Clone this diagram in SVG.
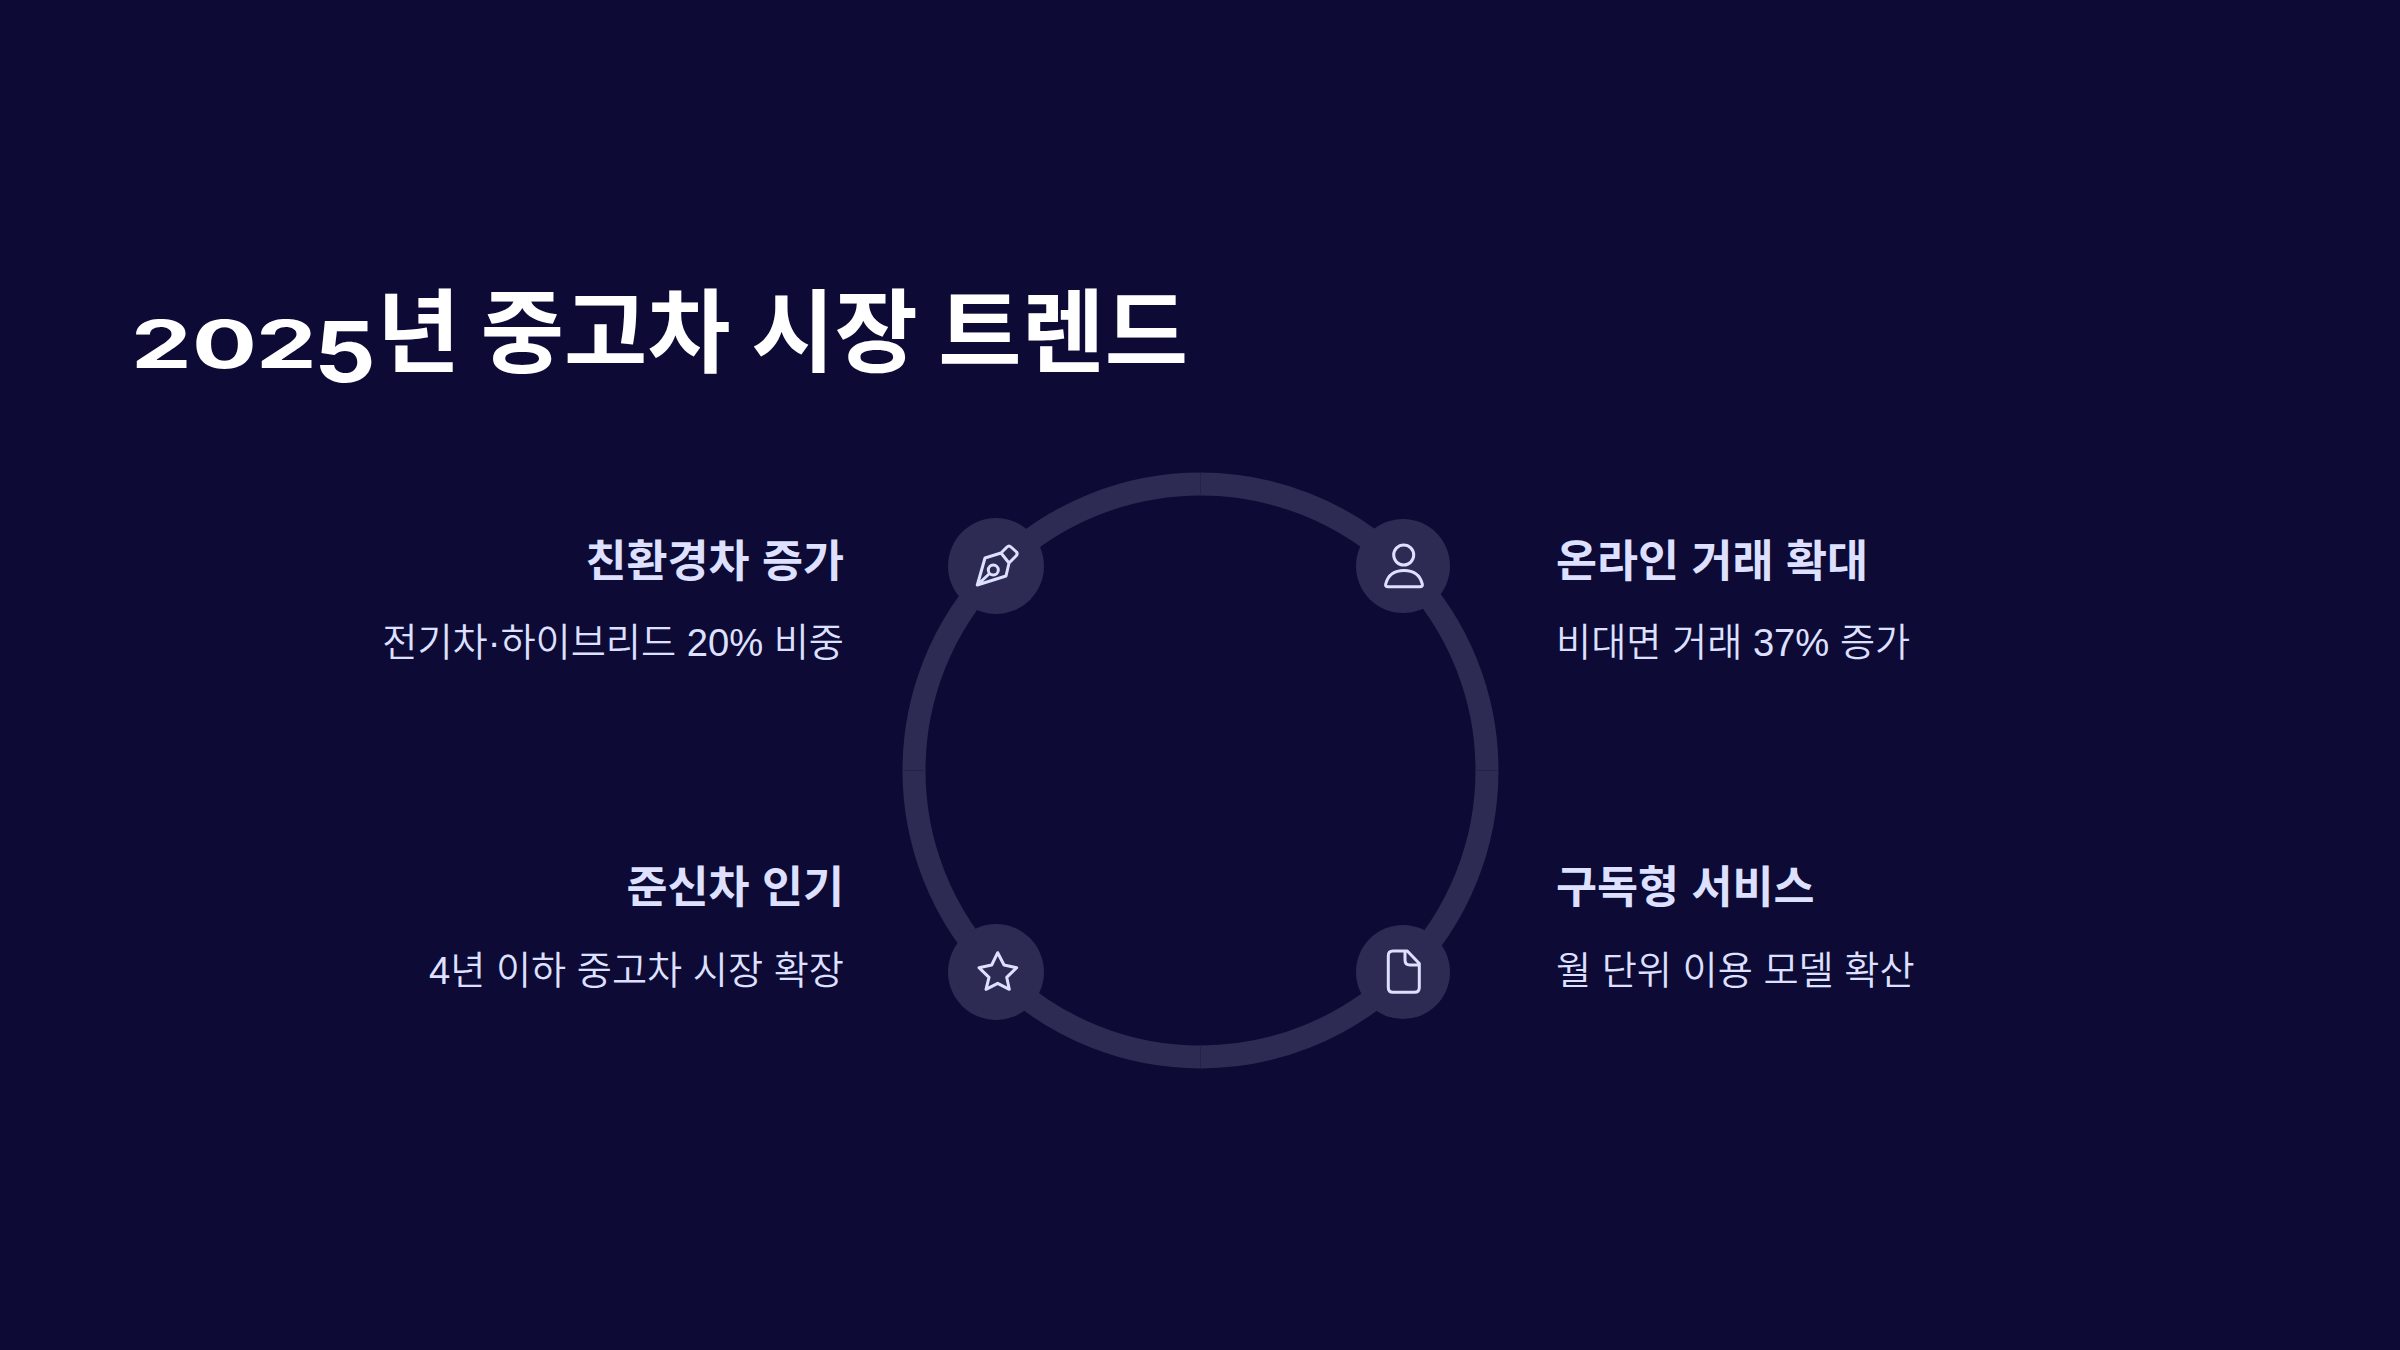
<svg xmlns="http://www.w3.org/2000/svg" width="2400" height="1350" viewBox="0 0 2400 1350">
<style>
.t{font-family:"Noto Sans CJK KR","Liberation Sans",sans-serif}
.title{font-size:90.500px;font-weight:700;fill:#fff}
.d{font-family:"Inter","Liberation Sans",sans-serif;font-weight:700;fill:#fff}
.h{font-family:"Liberation Sans","Noto Sans CJK KR",sans-serif;font-size:44.600px;font-weight:700;fill:#dde0ff}
.s{font-family:"Liberation Sans","Noto Sans CJK KR",sans-serif;font-size:38.200px;font-weight:350;fill:#dde0ff}
.ring{fill:none;stroke:#2d2b53;stroke-width:23}
.seam{stroke:#24224a;stroke-width:1}
.c{fill:#2d2b53}
.i{fill:none;stroke:#dde0ff;stroke-width:3;stroke-linecap:round;stroke-linejoin:round}
</style>
<rect width="2400" height="1350" fill="#0d0a36"/>
<g id="title">
<text class="d" transform="translate(131 368) scale(1.46 1)" font-size="66">2</text>
<text class="d" transform="translate(192 368) scale(1.46 1)" font-size="66">0</text>
<text class="d" transform="translate(256 368) scale(1.46 1)" font-size="66">2</text>
<text class="d" transform="translate(314 382) scale(1.15 1)" font-size="84">5</text>
<text class="t title" x="377" y="365">년 중고차 시장 트렌드</text>
</g>
<g id="connectors">
<circle class="ring" cx="1200.500" cy="770.500" r="286.500"/>
<path class="seam" d="M1200.500 473V496M1200.500 1045V1068M903 770.500H926M1475 770.500H1498"/>
</g>
<g id="node-tl"><circle class="c" cx="996" cy="566" r="48"/>
<path class="i" d="M977.300 585L985 558L1001 553L1009 563L1006 576ZM977.300 585L989 574M1001 553L1007 547Q1009 545 1011 547L1016.500 552Q1018 554 1016 556L1009 563"/><circle class="i" cx="993.300" cy="570" r="5"/></g>
<g id="node-tr"><circle class="c" cx="1403" cy="566" r="47"/>
<circle class="i" cx="1403.700" cy="555" r="10"/><path class="i" d="M1388 586.700H1420Q1423 586.700 1422.300 584C1420 575 1413 570.500 1404 570.500C1395 570.500 1388 575 1385.700 584Q1385 586.700 1388 586.700Z"/></g>
<g id="node-bl"><circle class="c" cx="996" cy="972" r="48"/>
<path class="i" d="M997.700 952.700L1004 965L1016.700 967.700L1006.700 977.300L1009.300 989.300L997.700 983.300L986 989.300L989 977.300L979 967.700L991.700 965Z"/></g>
<g id="node-br"><circle class="c" cx="1403" cy="972" r="47"/>
<path class="i" d="M1393 951H1407.300L1419.300 963.500V987.500Q1419.300 992.300 1414.500 992.300H1393Q1388.300 992.300 1388.300 987.500V955.800Q1388.300 951 1393 951ZM1405 951V960Q1405 965 1410 965H1419.300"/></g>
<g id="label-tl"><text class="h" x="844" y="577" text-anchor="end">친환경차 증가</text><text class="s" x="844" y="656" text-anchor="end">전기차·하이브리드 20% 비중</text></g>
<g id="label-tr"><text class="h" x="1556" y="577">온라인 거래 확대</text><text class="s" x="1556" y="656">비대면 거래 37% 증가</text></g>
<g id="label-bl"><text class="h" x="844" y="903" text-anchor="end">준신차 인기</text><text class="s" x="844" y="984" text-anchor="end">4년 이하 중고차 시장 확장</text></g>
<g id="label-br"><text class="h" x="1556" y="903">구독형 서비스</text><text class="s" x="1556" y="984">월 단위 이용 모델 확산</text></g>
</svg>
